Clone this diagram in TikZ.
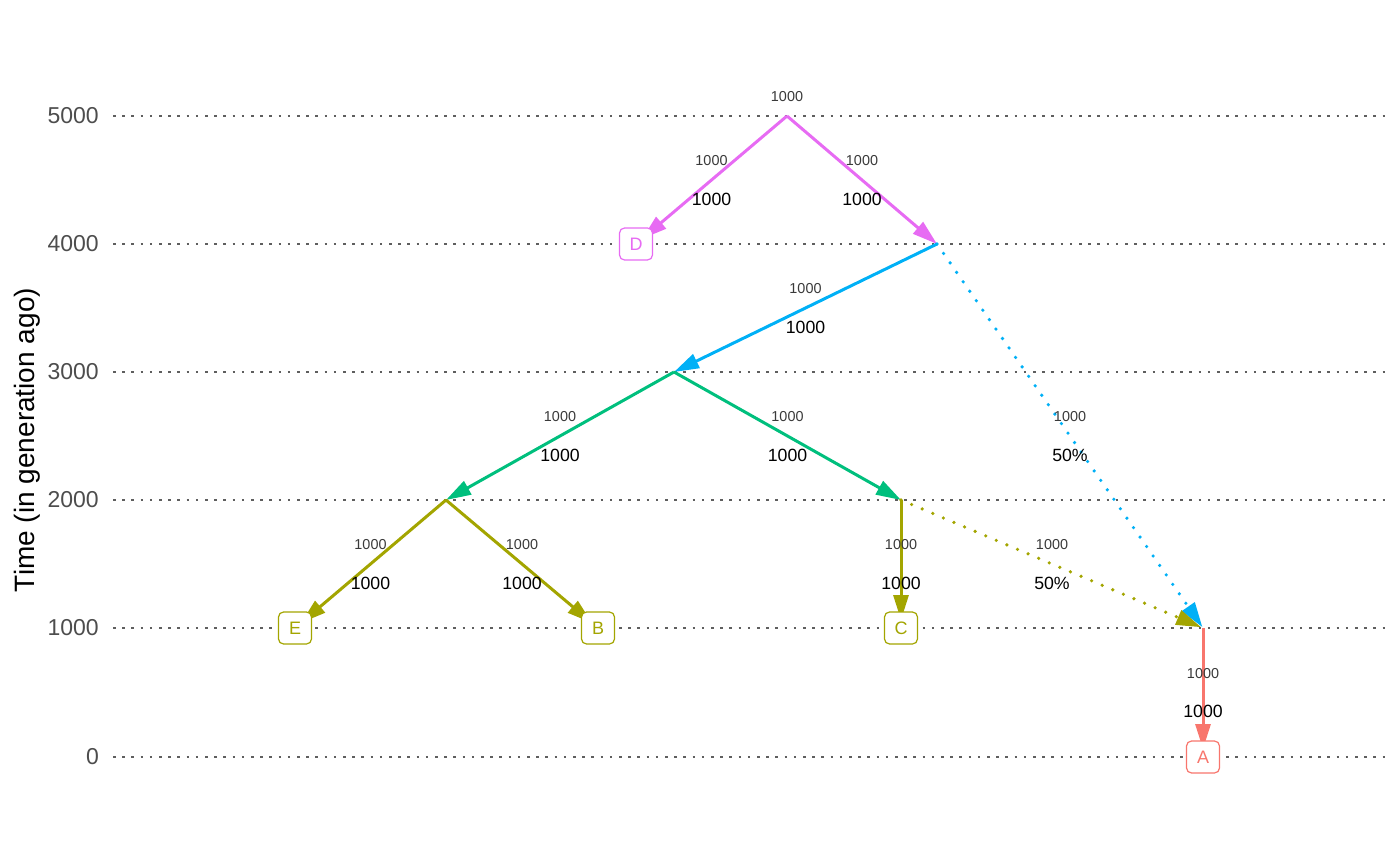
\documentclass[tikz,border=0pt]{standalone}
\usepackage{fontspec}
\setmainfont{Liberation Sans}
\usetikzlibrary{arrows.meta,backgrounds}
\definecolor{cred}{HTML}{F8766D}
\definecolor{colive}{HTML}{A3A500}
\definecolor{cgreen}{HTML}{00BF7D}
\definecolor{cblue}{HTML}{00B0F6}
\definecolor{cmag}{HTML}{E76BF3}
\definecolor{gridgray}{HTML}{5E5E5E}
\definecolor{tickgray}{HTML}{4D4D4D}
\definecolor{smallgray}{HTML}{3A3A3A}
\pgfdeclarelayer{gridlayer}
\pgfdeclarelayer{edgelayer}
\pgfsetlayers{gridlayer,edgelayer,main}
\begin{document}
\begin{tikzpicture}[x=1pt,y=-1pt,
  gridline/.style={draw=gridgray, line width=2.6pt, dash pattern=on 2.6pt off 6.6pt},
  ticklab/.style={anchor=east, text=tickgray, font=\fontsize{23}{27}\selectfont, inner sep=0pt},
  box/.style={draw=#1, text=#1, fill=white, rounded corners=5pt, minimum width=33pt, minimum height=32pt, line width=1.2pt, inner sep=0pt, font=\fontsize{18}{21}\selectfont},
  edge/.style={draw=#1, line width=3pt, -{Triangle[length=25pt,width=15pt]}},
  dotedge/.style={draw=#1, line width=3.6pt, line cap=round, dash pattern=on 0pt off 11.5pt, -{Triangle[length=25pt,width=15pt]}},
  smalllab/.style={text=smallgray, font=\fontsize{14.4}{17}\selectfont, inner sep=0pt},
  biglab/.style={text=black, font=\fontsize{17.7}{21}\selectfont, inner sep=0pt},
  toboxshort/.style={shorten >=8pt}
]
\useasboundingbox (0,0) rectangle (1400,866);

% axis
\foreach \v/\y in {5000/116,4000/244,3000/372,2000/500,1000/628,0/757}{
  \begin{pgfonlayer}{gridlayer}
    \draw[gridline] (113,\y) -- (1386,\y);
  \end{pgfonlayer}
  \node[ticklab] (tick\v) at (99,\y) {\v};
}
\node[rotate=90, font=\fontsize{28}{33}\selectfont, inner sep=0pt] (ylab) at (27,440) {Time (in generation ago)};

% tree points
\coordinate (R) at (787,116);
\coordinate (S4) at (937,244);
\coordinate (N3) at (674,372);
\coordinate (N2a) at (446,500);
\coordinate (N2b) at (901,500);
\coordinate (M) at (1203,628);

% leaf boxes
\node[box=cmag] (D) at (636,244) {D};
\node[box=colive] (E) at (295,628) {E};
\node[box=colive] (B) at (598,628) {B};
\node[box=colive] (C) at (901,628) {C};
\node[box=cred] (A) at (1203,757) {A};

\node[smalllab] (rootlab) at (787,97) {1000};

\begin{pgfonlayer}{edgelayer}
\draw[edge=cmag, toboxshort] (R) -- (D.center)
  node[midway, yshift=19pt, smalllab] (lRD1) {1000}
  node[midway, yshift=-19pt, biglab] (lRD2) {1000};
\draw[edge=cmag] (R) -- (S4)
  node[midway, yshift=19pt, smalllab] (lRS1) {1000}
  node[midway, yshift=-19pt, biglab] (lRS2) {1000};
\draw[edge=cblue] (S4) -- (N3)
  node[midway, yshift=19pt, smalllab] (lSN1) {1000}
  node[midway, yshift=-19pt, biglab] (lSN2) {1000};
\draw[dotedge=cblue, shorten >=1pt] (S4) -- (M)
  node[midway, yshift=19pt, smalllab] (lSM1) {1000}
  node[midway, yshift=-19pt, biglab] (lSM2) {50\%};
\draw[edge=cgreen] (N3) -- (N2a)
  node[midway, yshift=19pt, smalllab] (lNa1) {1000}
  node[midway, yshift=-19pt, biglab] (lNa2) {1000};
\draw[edge=cgreen] (N3) -- (N2b)
  node[midway, yshift=19pt, smalllab] (lNb1) {1000}
  node[midway, yshift=-19pt, biglab] (lNb2) {1000};
\draw[edge=colive, toboxshort] (N2a) -- (E.center)
  node[midway, yshift=19pt, smalllab] (lE1) {1000}
  node[midway, yshift=-19pt, biglab] (lE2) {1000};
\draw[edge=colive, toboxshort] (N2a) -- (B.center)
  node[midway, yshift=19pt, smalllab] (lB1) {1000}
  node[midway, yshift=-19pt, biglab] (lB2) {1000};
\draw[edge=colive, toboxshort] (N2b) -- (C.center)
  node[midway, yshift=19pt, smalllab] (lC1) {1000}
  node[midway, yshift=-19pt, biglab] (lC2) {1000};
\draw[dotedge=colive, shorten >=2pt] (N2b) -- (M)
  node[midway, yshift=19pt, smalllab] (lNM1) {1000}
  node[midway, yshift=-19pt, biglab] (lNM2) {50\%};
\draw[edge=cred, toboxshort] (M) -- (A.center)
  node[midway, yshift=19pt, smalllab] (lA1) {1000}
  node[midway, yshift=-19pt, biglab] (lA2) {1000};
\end{pgfonlayer}
\end{tikzpicture}
\end{document}
